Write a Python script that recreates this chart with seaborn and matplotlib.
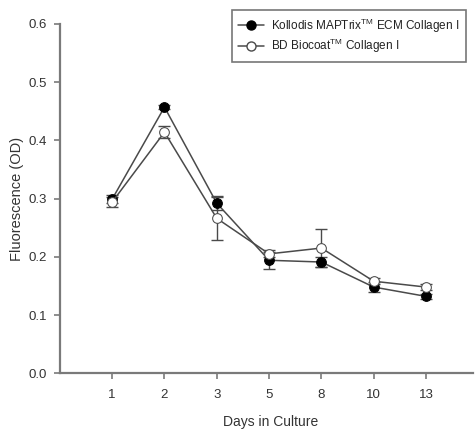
import pandas as pd
import matplotlib.pyplot as plt
import seaborn as sns
from matplotlib.lines import Line2D

# Data
days = ['1', '2', '3', '5', '8', '10', '13']
kollodis = [0.299, 0.457, 0.292, 0.194, 0.191, 0.148, 0.132]
kollodis_err = [0.007, 0.004, 0.011, 0.015, 0.008, 0.008, 0.004]
biocoat = [0.294, 0.414, 0.266, 0.205, 0.215, 0.158, 0.148]
biocoat_err = [0.008, 0.010, 0.038, 0.006, 0.033, 0.005, 0.005]

names = ['Kollodis MAPTrix$^{\\mathrm{TM}}$ ECM Collagen I',
         'BD Biocoat$^{\\mathrm{TM}}$ Collagen I']

# Build a long-form table for seaborn
pos = list(range(len(days)))
df = pd.DataFrame({
    'pos': pos * 2,
    'value': kollodis + biocoat,
    'series': [names[0]] * len(days) + [names[1]] * len(days),
})

sns.set_style('white')
plt.rcParams['font.family'] = ['Liberation Sans', 'DejaVu Sans']
plt.rcParams['mathtext.fontset'] = 'custom'
plt.rcParams['mathtext.rm'] = 'Liberation Sans'

fig = plt.figure(figsize=(4.75, 4.34), dpi=100)
ax = fig.add_axes([0.126, 0.14, 0.87, 0.805])

line_col = '#4a4a4a'
spine_col = '#7a7a7a'
text_col = '#333333'

# Error bars first so markers sit on top
for vals, errs in [(kollodis, kollodis_err), (biocoat, biocoat_err)]:
    ax.errorbar(pos, vals, yerr=errs, fmt='none', ecolor=line_col,
                elinewidth=1.0, capsize=4, capthick=1.0, zorder=2)

sns.lineplot(data=df, x='pos', y='value', hue='series', style='series',
             palette=[line_col, line_col], markers=['o', 'o'], dashes=False,
             linewidth=1.1, markersize=7, ax=ax, legend=False, zorder=3)

# Fill the markers: black for Kollodis, white for Biocoat
lines = ax.get_lines()[-2:]
lines[0].set_markerfacecolor('black')
lines[0].set_markeredgecolor('black')
lines[1].set_markerfacecolor('white')
lines[1].set_markeredgecolor(line_col)

ax.set_xlim(-1.0, 6.9)
ax.set_ylim(0.0, 0.6)
ax.set_xticks(pos)
ax.set_xticklabels(days)
ax.set_yticks([0.0, 0.1, 0.2, 0.3, 0.4, 0.5, 0.6])
ax.set_yticklabels(['0.0', '0.1', '0.2', '0.3', '0.4', '0.5', '0.6'])

ax.set_xlabel('Days in Culture', fontsize=10, color=text_col)
ax.set_ylabel('Fluorescence (OD)', fontsize=10.5, color=text_col)
ax.xaxis.set_label_coords(0.51, -0.12)
ax.yaxis.set_label_coords(-0.086, 0.5)

ax.tick_params(axis='both', direction='out', length=4, width=1.2, color=spine_col,
               labelsize=9.5, labelcolor=text_col, bottom=True, left=True)
ax.tick_params(axis='x', pad=7)
ax.tick_params(axis='y', pad=5)

for side in ['top', 'right']:
    ax.spines[side].set_visible(False)
for side in ['left', 'bottom']:
    ax.spines[side].set_color(spine_col)
    ax.spines[side].set_linewidth(1.6)

# Legend
handles = [
    Line2D([], [], color=line_col, marker='o', markerfacecolor='black',
           markeredgecolor='black', markersize=6.5, linewidth=1.1),
    Line2D([], [], color=line_col, marker='o', markerfacecolor='white',
           markeredgecolor=line_col, markersize=6.5, linewidth=1.1),
]
leg = fig.legend(handles, names, loc='upper right', bbox_to_anchor=(0.994, 0.991),
                 fontsize=8.5, frameon=True, fancybox=False, handlelength=2.2,
                 borderpad=0.55, labelspacing=0.2, handletextpad=0.6)
leg.get_frame().set_edgecolor('#555555')
leg.get_frame().set_linewidth(1.2)
for t in leg.get_texts():
    t.set_color('#222222')

fig.savefig('out.png', dpi=100)
